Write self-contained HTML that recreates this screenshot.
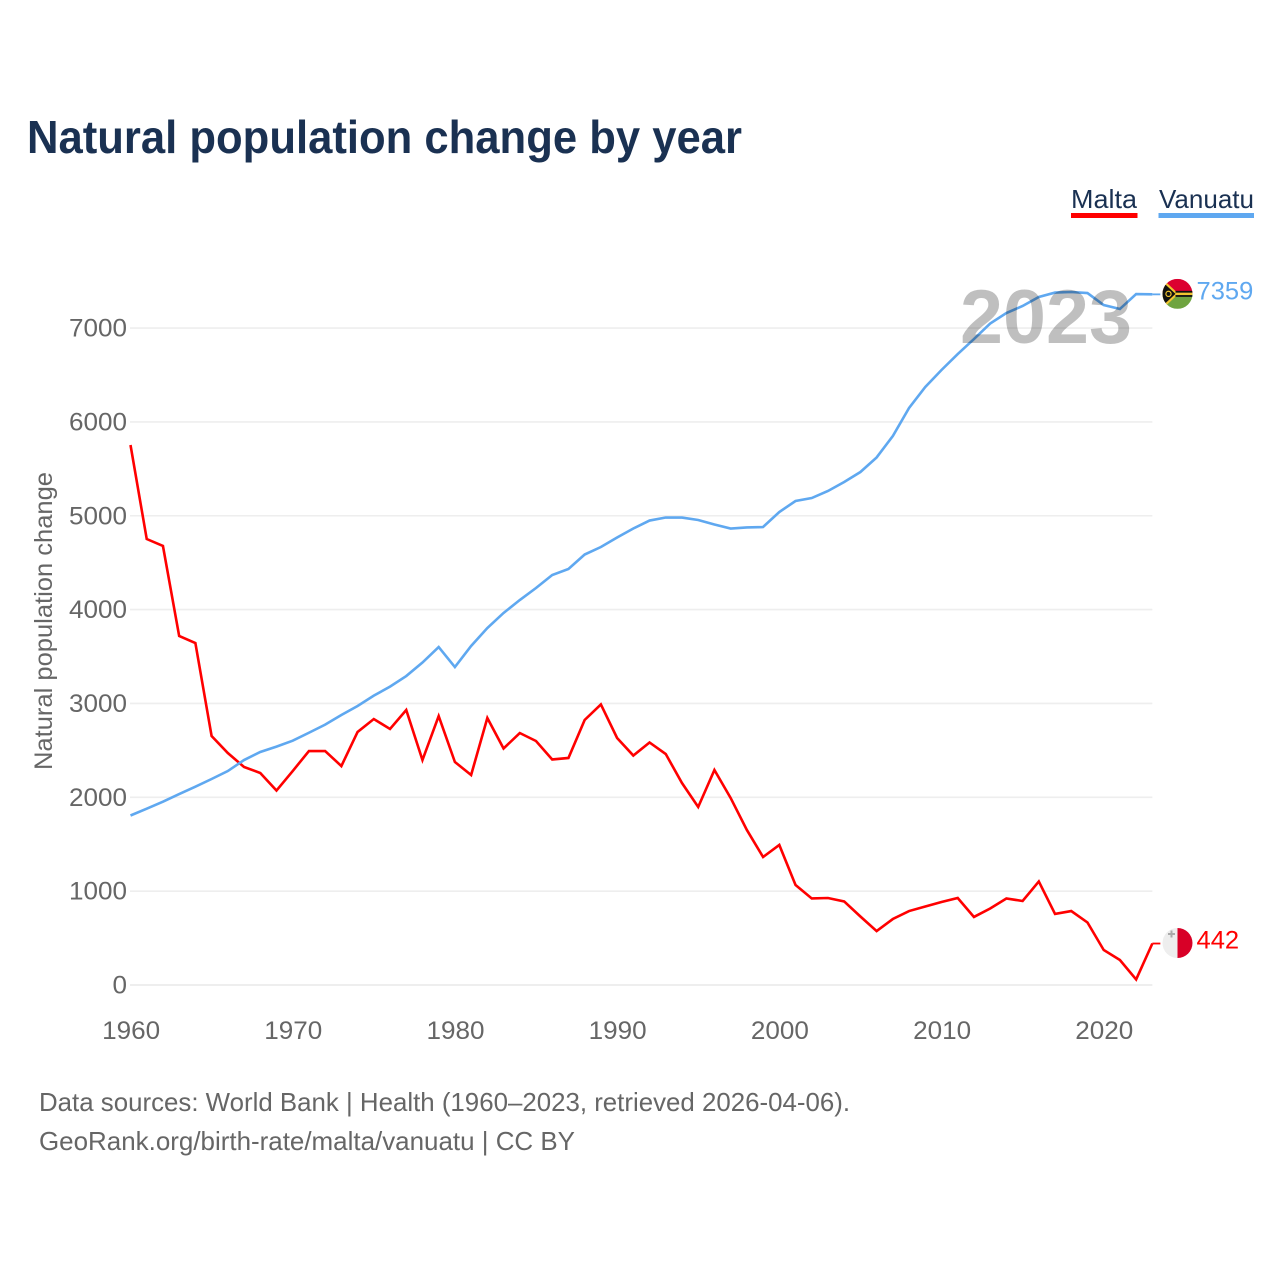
<!DOCTYPE html>
<html lang="en">
<head>
<meta charset="utf-8">
<title>Natural population change by year</title>
<style>
html,body{margin:0;padding:0;background:#fff;width:1280px;height:1280px;overflow:hidden}
svg{display:block}
text{font-family:"Liberation Sans",sans-serif}
</style>
</head>
<body>
<svg id="chart" xmlns="http://www.w3.org/2000/svg" width="1280" height="1280" viewBox="0 0 1280 1280">
  <rect width="1280" height="1280" fill="#fff"/>
  <text x="27" y="153" font-size="46" font-weight="700" fill="#1a3152" textLength="715" lengthAdjust="spacingAndGlyphs">Natural population change by year</text>

  <g>
    <text x="1071" y="208" font-size="26" fill="#1a3152" textLength="66" lengthAdjust="spacingAndGlyphs">Malta</text>
    <rect x="1071" y="213" width="66.5" height="5" fill="#ff0000"/>
  </g>
  <g>
    <text x="1159" y="208" font-size="26" fill="#1a3152" textLength="95" lengthAdjust="spacingAndGlyphs">Vanuatu</text>
    <rect x="1158.5" y="213" width="95.5" height="5" fill="#5fa8f0"/>
  </g>

  <g id="grid"></g>
  <g id="yTicks"></g>
  <g id="xTicks"></g>
  <text transform="translate(52 621) rotate(-90)" text-anchor="middle" font-size="25" fill="#666" textLength="298" lengthAdjust="spacingAndGlyphs">Natural population change</text>

  <g id="series"></g>

  <text x="1132" y="343" text-anchor="end" font-size="76" font-weight="700" fill="#000" fill-opacity="0.25" textLength="172" lengthAdjust="spacingAndGlyphs">2023</text>

  <defs>
    <clipPath id="flagClip"><circle cx="0" cy="0" r="15"/></clipPath>
  </defs>
  <g id="flagVanuatu">
    <g clip-path="url(#flagClip)">
      <rect x="-15" y="-15" width="30" height="15" fill="#dc0030"/>
      <rect x="-15" y="0" width="30" height="15" fill="#6fa440"/>
      <path d="M-15,-15 L1,0 L-15,15 Z" fill="#f2c530"/>
      <path d="M-15,-12 L-2,0 L-15,12 Z" fill="#111"/>
      <rect x="-2" y="-3" width="17" height="6" fill="#111"/>
      <rect x="-2" y="-1.2" width="17" height="2.4" fill="#f2c530"/>
      <circle cx="-9" cy="0" r="2.6" fill="none" stroke="#f2c530" stroke-width="1.2"/>
    </g>
  </g>
  <g id="flagMalta">
    <g clip-path="url(#flagClip)">
      <rect x="-15" y="-15" width="15" height="30" fill="#eeeeee"/>
      <rect x="0" y="-15" width="15" height="30" fill="#d80027"/>
      <path d="M-9.5,-9 h7 M-6,-12.5 v7" stroke="#aaa" stroke-width="2" fill="none"/>
    </g>
  </g>
  <g id="endLabels"></g>

  <text x="39" y="1111" font-size="26" fill="#666" textLength="811" lengthAdjust="spacingAndGlyphs">Data sources: World Bank | Health (1960–2023, retrieved 2026-04-06).</text>
  <text x="39" y="1150" font-size="26" fill="#666" textLength="536" lengthAdjust="spacingAndGlyphs">GeoRank.org/birth-rate/malta/vanuatu | CC BY</text>
</svg>

<script>
const years = [1960,1961,1962,1963,1964,1965,1966,1967,1968,1969,1970,1971,1972,1973,1974,1975,1976,1977,1978,1979,1980,1981,1982,1983,1984,1985,1986,1987,1988,1989,1990,1991,1992,1993,1994,1995,1996,1997,1998,1999,2000,2001,2002,2003,2004,2005,2006,2007,2008,2009,2010,2011,2012,2013,2014,2015,2016,2017,2018,2019,2020,2021,2022,2023];
const maltaValues = [5754,4752,4678,3719,3644,2653,2472,2323,2259,2072,2280,2493,2493,2333,2696,2834,2728,2930,2397,2866,2376,2238,2845,2520,2685,2600,2403,2419,2824,2989,2632,2445,2584,2461,2152,1897,2291,1993,1652,1364,1492,1066,922,927,890,730,575,703,788,836,884,927,725,815,922,895,1103,757,788,666,373,266,59,442];
const vanuatuValues = [1806,1879,1953,2035,2113,2195,2280,2397,2483,2540,2603,2688,2774,2877,2973,3083,3179,3292,3436,3601,3388,3612,3804,3964,4102,4230,4369,4433,4587,4667,4768,4864,4949,4981,4981,4955,4907,4864,4875,4880,5040,5157,5189,5264,5360,5466,5621,5850,6148,6372,6553,6723,6883,7048,7160,7235,7331,7378,7384,7373,7245,7203,7362,7359];
const yTickValues = [0,1000,2000,3000,4000,5000,6000,7000];
const xTickValues = [1960,1970,1980,1990,2000,2010,2020];

const NS = 'http://www.w3.org/2000/svg';
const xScale = function (year) { return 130.5 + (year - 1960) * 16.22; };
const yScale = function (value) { return 985 - value * 0.09385; };
const xEnd = xScale(years[years.length - 1]);

function make(tag, parent, attrs, content) {
  const el = document.createElementNS(NS, tag);
  for (const key in attrs) el.setAttribute(key, attrs[key]);
  if (content !== undefined) el.textContent = content;
  parent.appendChild(el);
  return el;
}

const grid = document.getElementById('grid');
const yTicks = document.getElementById('yTicks');
yTickValues.forEach(function (v) {
  const line = make('line', grid, {x1: 130, x2: xEnd, y1: yScale(v), y2: yScale(v), stroke: '#eeeeee', 'stroke-width': v === 0 ? 2 : 1.6});
  
  
  const s = String(v);
  const label = make('text', yTicks, {x: 127, y: yScale(v) + 8.5, 'text-anchor': 'end', 'font-size': 25, fill: '#666', textLength: s.length * 14.5, lengthAdjust: 'spacingAndGlyphs'}, s);
  
  
});

const xTicks = document.getElementById('xTicks');
xTickValues.forEach(function (y) {
  const label = make('text', xTicks, {x: xScale(y) + 0.6, y: 1039, 'text-anchor': 'middle', 'font-size': 25, fill: '#666', textLength: 58, lengthAdjust: 'spacingAndGlyphs'}, String(y));
  
  
});

function drawSeries(values, color, key) {
  const group = document.getElementById('series');
  const pts = values.map(function (v, i) { return xScale(years[i]).toFixed(2) + ',' + yScale(v).toFixed(2); });
  const path = make('polyline', group, {points: pts.join(' '), fill: 'none', stroke: color, 'stroke-width': 2.6, 'stroke-linejoin': 'miter'});
  
  
  const last = values[values.length - 1];
  const tail = make('line', group, {x1: xEnd, x2: xEnd + 8, y1: yScale(last), y2: yScale(last), stroke: color, 'stroke-width': 1.8});
  
  
}
drawSeries(maltaValues, '#ff0000', 'malta');
drawSeries(vanuatuValues, '#5fa8f0', 'vanuatu');

function placeEnd(values, color, flagId, key) {
  const last = values[values.length - 1];
  const y = yScale(last);
  document.getElementById(flagId).setAttribute('transform', 'translate(1177.5 ' + (y - 0.5) + ')');
  const s = String(last);
  const label = make('text', document.getElementById('endLabels'), {x: 1196.5, y: y + 5, 'font-size': 25, fill: color, textLength: s.length * 14.2, lengthAdjust: 'spacingAndGlyphs'}, s);
  
  
}
placeEnd(maltaValues, '#ff0000', 'flagMalta', 'malta');
placeEnd(vanuatuValues, '#5fa8f0', 'flagVanuatu', 'vanuatu');
</script>
</body>
</html>
